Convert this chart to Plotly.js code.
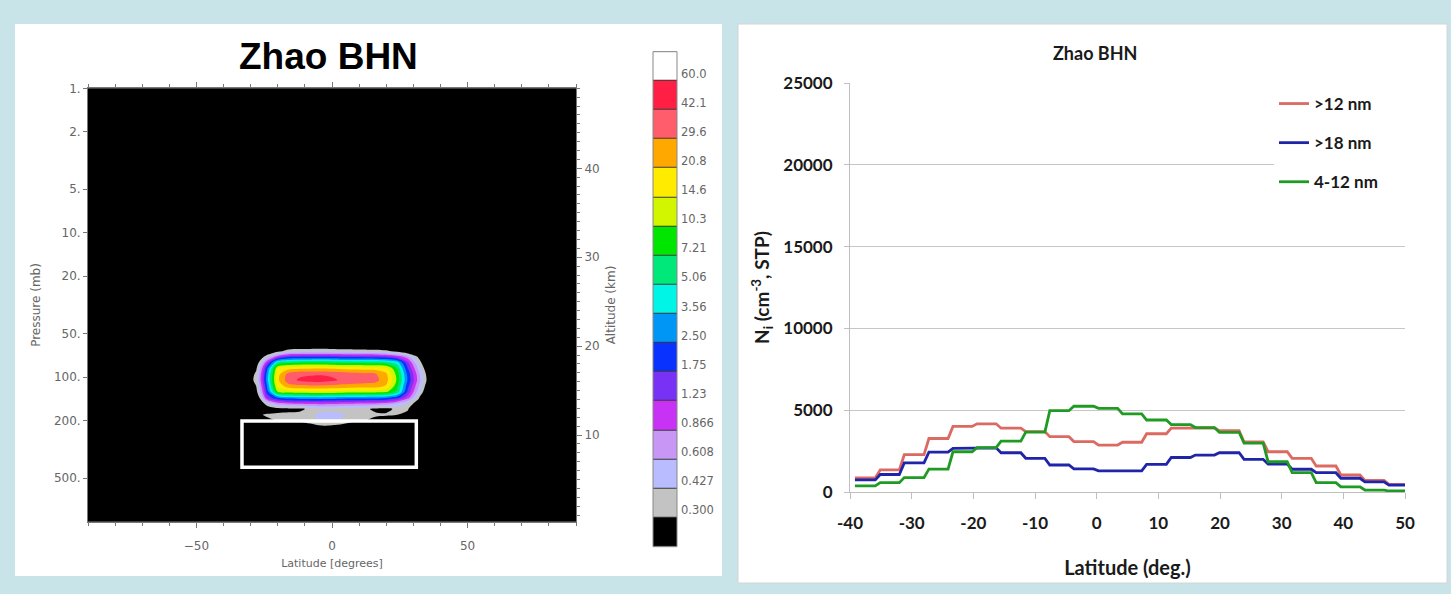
<!DOCTYPE html>
<html><head><meta charset="utf-8">
<script src="https://cdn.plot.ly/plotly-3.0.1.min.js"></script>
<style>html,body{margin:0;padding:0;background:#c8e4e9;} #chart{width:1451px;height:594px;}</style>
</head><body><div id="chart"></div>
<script>
// ================= LEFT PANEL DATA (latitude–pressure section) =================
const contourLat = [-36,-32,-28,-24,-20,-16,-12,-8,-4,0,4,8,12,16,20,24,28,32,36,40];
const contourPressure = [50,55,60,66,72,79,87,95,105,115,126,138,151,166,182,200,219,240];
const contourValue = [
 [0.08,0.08,0.08,0.08,0.08,0.08,0.08,0.08,0.08,0.08,0.08,0.08,0.08,0.08,0.08,0.08,0.08,0.08,0.08,0.08],
 [0.08,0.08,0.08,0.08,0.08,0.08,0.08,0.08,0.08,0.08,0.08,0.08,0.08,0.08,0.08,0.08,0.08,0.08,0.08,0.08],
 [0.08,0.08,0.08,0.08,0.131,0.159,0.169,0.173,0.175,0.169,0.162,0.159,0.156,0.154,0.140,0.106,0.08,0.08,0.08,0.08],
 [0.08,0.08,0.08,0.148,0.251,0.384,0.408,0.418,0.423,0.409,0.392,0.384,0.377,0.372,0.338,0.257,0.168,0.119,0.08,0.08],
 [0.08,0.08,0.129,0.398,1.03,1.58,1.67,1.71,1.73,1.68,1.61,1.58,1.55,1.53,1.39,1.06,0.690,0.260,0.08,0.08],
 [0.08,0.08,0.196,1.15,5.35,6.48,6.88,7.05,7.13,6.91,6.62,6.48,6.37,6.28,5.71,4.34,1.27,0.398,0.116,0.08],
 [0.08,0.133,0.270,2.24,14.6,18.7,19.9,20.4,20.6,19.9,19.1,18.7,18.4,18.1,16.5,7.21,1.75,0.547,0.159,0.08],
 [0.08,0.165,0.334,2.78,18.1,34.1,38.8,39.8,40.3,39.0,36.5,34.0,32.2,30.6,22.2,8.88,2.16,0.674,0.196,0.08],
 [0.104,0.177,0.358,2.98,19.4,36.6,44.4,48.5,50.2,45.2,39.3,36.6,34.7,32.9,24.0,9.57,2.32,0.725,0.211,0.104],
 [0.08,0.148,0.300,2.48,16.2,25.7,27.3,28.0,28.3,27.4,26.3,25.7,25.3,24.9,20.0,7.99,1.94,0.606,0.176,0.08],
 [0.08,0.120,0.243,2.01,10.5,12.7,13.5,13.9,14.0,13.6,13.0,12.7,12.5,12.3,11.2,6.46,1.57,0.490,0.143,0.08],
 [0.08,0.08,0.159,1.33,2.65,3.20,3.40,3.48,3.52,3.41,3.27,3.20,3.15,3.10,2.82,2.13,1.04,0.324,0.08,0.08],
 [0.08,0.08,0.112,0.453,0.795,0.963,1.02,1.05,1.06,1.03,0.983,0.963,0.946,0.933,0.847,0.643,0.421,0.226,0.08,0.08],
 [0.08,0.08,0.08,0.177,0.251,0.260,0.270,0.334,0.371,0.371,0.358,0.346,0.334,0.270,0.260,0.334,0.311,0.148,0.08,0.08],
 [0.08,0.08,0.251,0.334,0.327,0.334,0.340,0.384,0.475,0.492,0.442,0.358,0.340,0.327,0.322,0.300,0.270,0.148,0.08,0.08],
 [0.08,0.08,0.148,0.251,0.305,0.316,0.322,0.358,0.458,0.458,0.398,0.322,0.300,0.251,0.211,0.177,0.148,0.08,0.08,0.08],
 [0.08,0.08,0.08,0.148,0.177,0.196,0.211,0.251,0.280,0.270,0.243,0.211,0.196,0.177,0.148,0.08,0.08,0.08,0.08,0.08],
 [0.08,0.08,0.08,0.08,0.08,0.08,0.08,0.08,0.08,0.08,0.08,0.08,0.08,0.08,0.08,0.08,0.08,0.08,0.08,0.08]
];
const levelLabels = ['0.300','0.427','0.608','0.866','1.23','1.75','2.50','3.56','5.06','7.21','10.3','14.6','20.8','29.6','42.1','60.0'];
const levelColors = ['#000000','#c3c3c3','#b9bdff','#c896f5','#c832f5','#7832f5','#0a32ff','#0096f5','#00f5e6',
                     '#00e87a','#00e600','#d2f500','#ffeb00','#ffa800','#ff5c6c','#ff1f45','#ffffff'];
const pressureTicks = [1,2,5,10,20,50,100,200,500];
const pressureTickText = ['1.','2.','5.','10.','20.','50.','100.','200.','500.'];
const latTicksLeft = [-50,0,50];
const altitudeRange = [0.25, 49];
const boxLat = [-33.2, 31.1];
const boxPressure = [201, 420];

// ================= RIGHT PANEL DATA (Ni vs latitude) =================
const latStart = [-39.2,-35.1,-31.2,-27.2,-23.3,-19.4,-15.5,-11.5,-7.6,-3.7,0.3,4.2,8.1,12.1,16.0,19.9,23.9,27.8,31.7,35.6,39.6,43.5,47.4];
const latEnd   = [-35.9,-32.0,-28.0,-24.1,-20.2,-16.3,-12.3,-8.4,-4.5,-0.5,3.4,7.3,11.3,15.2,19.1,23.1,27.0,30.9,34.8,38.8,42.7,46.6,50.0];
const gt12    = [860,1350,2280,3270,4010,4170,3900,3690,3380,3080,2870,3040,3560,3910,3920,3750,3060,2460,2060,1590,1040,710,470];
const gt18    = [740,1070,1780,2440,2670,2700,2400,2060,1650,1410,1290,1290,1690,2110,2260,2400,2000,1710,1390,1180,840,620,420];
const nm4to12 = [370,570,880,1400,2460,2710,3110,3660,4970,5240,5110,4770,4400,4120,3940,3650,2990,1850,1180,570,310,120,60];
const seriesNames = ['&gt;12 nm','&gt;18 nm','4-12 nm'];
const seriesColors = ['#dc6a62','#1f24a8','#1f9a22'];
const latTicksRight = [-40,-30,-20,-10,0,10,20,30,40,50];
const latTickTextRight = latTicksRight.map(String);

// ================= BUILD =================
const W = 1451, H = 594;
const px = v => v / W;
const py = v => 1 - v / H;

const zIndex = contourValue.map(r => r.map(v => 15 * Math.log(v / 0.3) / Math.log(200)));
const discreteScale = levelColors.map((c, j) => [j / (levelColors.length - 1), c]);

function stepX() { const o = []; latStart.forEach((s, i) => { o.push(s, latEnd[i]); }); return o; }
function stepY(vals) { const o = []; vals.forEach(v => { o.push(v, v); }); return o; }

const traces = [
  {type:'contour', x: contourLat, y: contourPressure.map(p => Math.log10(p)), z: zIndex,
   xaxis:'x', yaxis:'y', autocontour:false,
   contours:{start:0, end:15, size:1, coloring:'fill', showlines:false},
   colorscale: discreteScale, showscale:false, line:{width:0, smoothing:0.9},
   hoverinfo:'skip', showlegend:false},
  // empty trace so that the altitude axis (y2) is drawn
  {type:'scatter', mode:'none', x:[], y:[], xaxis:'x', yaxis:'y2', hoverinfo:'skip', showlegend:false},
  {type:'heatmap', x:[0], y: levelColors.map((c, j) => j), z: levelColors.map((c, j) => [j]),
   xaxis:'x3', yaxis:'y3', colorscale: discreteScale, zmin:0, zmax: levelColors.length - 1,
   showscale:false, ygap:1, hoverinfo:'skip', showlegend:false}
];
[gt12, gt18, nm4to12].forEach((vals, i) => {
  traces.push({type:'scatter', mode:'lines', x: stepX(), y: stepY(vals), xaxis:'x4', yaxis:'y4',
    name: seriesNames[i], legendgroup: 'g' + i, line:{color: seriesColors[i], width:2.8},
    hoverinfo:'skip'});
});

const gfont = {family:'DejaVu Sans', size:12, color:'#666'};
const efont = {family:'Lato', size:17, color:'#1a1a1a', weight:'bold'};

const layout = {
  width: W, height: H, margin:{l:0,r:0,t:0,b:0},
  paper_bgcolor:'#c8e4e9', plot_bgcolor:'rgba(0,0,0,0)',
  showlegend:true,
  xaxis:{domain:[px(88), px(576)], range:[-90,90], anchor:'y',
    tickmode:'array', tickvals: latTicksLeft, ticks:'outside', ticklen:5, tickcolor:'#777',
    minor:{dtick:10, tick0:0, ticks:'outside', ticklen:3, tickcolor:'#777'},
    showline:true, linecolor:'#777', linewidth:1, mirror:'ticks', showgrid:false, zeroline:false,
    tickfont: gfont, ticklabelstandoff:8,
    title:{text:'Latitude [degrees]', font:{family:'DejaVu Sans', size:11, color:'#666'}, standoff:7}},
  yaxis:{domain:[py(521.7), py(88.3)], range:[3, 0], anchor:'x',
    tickmode:'array', tickvals: pressureTicks.map(p => Math.log10(p)), ticktext: pressureTickText,
    ticks:'outside', ticklen:4, tickcolor:'#777', showline:true, linecolor:'#777', showgrid:false, zeroline:false,
    tickfont: gfont, title:{text:'Pressure (mb)', font: gfont, standoff:10}},
  yaxis2:{overlaying:'y', anchor:'x', side:'right', range: altitudeRange,
    tick0:0, dtick:10, ticks:'outside', ticklen:5, tickcolor:'#777',
    minor:{dtick:1, ticks:'outside', ticklen:3, tickcolor:'#777'},
    showline:true, linecolor:'#777', showgrid:false, zeroline:false,
    tickfont: gfont, title:{text:'Altitude (km)', font: gfont, standoff:7}},
  xaxis3:{domain:[px(653), px(677)], range:[-0.5, 0.5], anchor:'y3', visible:false, fixedrange:true},
  yaxis3:{domain:[py(546.7), py(51.7)], range:[-0.5, levelColors.length - 0.5], anchor:'x3', side:'right',
    tickmode:'array', tickvals: levelLabels.map((t, k) => k + 0.75), ticktext: levelLabels,
    ticks:'', showline:false, showgrid:false, zeroline:false, ticklabelstandoff:3,
    tickfont:{family:'DejaVu Sans', size:11.5, color:'#666'}},
  xaxis4:{domain:[px(850), px(1405)], range:[-40, 50], anchor:'y4',
    tickmode:'array', tickvals: latTicksRight, ticktext: latTickTextRight,
    ticks:'outside', ticklen:6, tickcolor:'#bfbfbf', showline:true, linecolor:'#bfbfbf',
    showgrid:false, zeroline:false, tickfont: efont, ticklabelstandoff:10,
    title:{text:'Latitude (deg.)', font:{family:'Lato', size:20, color:'#1a1a1a', weight:'bold'}, standoff:28}},
  yaxis4:{domain:[py(492), py(83)], range:[0, 25000], anchor:'x4',
    tick0:0, dtick:5000, tickformat:'d', ticks:'outside', ticklen:5, tickcolor:'#bfbfbf',
    showline:true, linecolor:'#bfbfbf', showgrid:true, gridcolor:'#c6c6c6', zeroline:false,
    tickfont: efont, ticklabelstandoff:8,
    title:{text:'N<sub>i</sub> (cm<sup>-3</sup>, STP)', font:{family:'Lato', size:19, color:'#1a1a1a', weight:'bold'}, standoff:8}},
  legend:{x: px(1274), y: py(86), xanchor:'left', yanchor:'top', bgcolor:'#ffffff',
    font: efont, tracegroupgap:14, itemwidth:30},
  annotations:[
    {xref:'paper', yref:'paper', x: px(328), y: py(57), text:'Zhao BHN', showarrow:false,
     xanchor:'center', yanchor:'middle', font:{family:'Liberation Sans', size:37, color:'#000', weight:'bold'}},
    {xref:'paper', yref:'paper', x: px(1095), y: py(53), text:'Zhao BHN', showarrow:false,
     xanchor:'center', yanchor:'middle', font:{family:'Lato', size:18, color:'#1a1a1a', weight:'bold'}}
  ],
  shapes:[
    {type:'rect', xref:'paper', yref:'paper', x0:px(15), x1:px(722), y0:py(576), y1:py(24), fillcolor:'#ffffff', line:{width:0}, layer:'below'},
    {type:'rect', xref:'paper', yref:'paper', x0:px(738), x1:px(1447), y0:py(583), y1:py(24), fillcolor:'#ffffff', line:{width:1, color:'#d4d4d4'}, layer:'below'},
    // legend box area (Excel legend background hides the grid behind it)
    {type:'rect', xref:'paper', yref:'paper', x0:px(1276), x1:px(1410), y0:py(196), y1:py(89), fillcolor:'#ffffff', line:{width:0}, layer:'above'},
    {type:'rect', xref:'x domain', yref:'y domain', x0:0, x1:1, y0:0, y1:1, fillcolor:'#000000', line:{width:0}, layer:'below'},
    {type:'rect', xref:'x', yref:'y', x0: boxLat[0], x1: boxLat[1], y0: Math.log10(boxPressure[0]), y1: Math.log10(boxPressure[1]),
     fillcolor:'rgba(0,0,0,0)', line:{width:3.5, color:'#ffffff'}, layer:'above'},
    {type:'rect', xref:'x3 domain', yref:'y3 domain', x0:0, x1:1, y0:0, y1:1, fillcolor:'#3a3a3a', line:{width:0}, layer:'below'},
    {type:'rect', xref:'x3 domain', yref:'y3 domain', x0:0, x1:1, y0:0, y1:1, fillcolor:'rgba(0,0,0,0)', line:{width:1, color:'#888'}, layer:'above'}
  ]
};

Plotly.newPlot('chart', traces, layout, {displayModeBar:false, staticPlot:true});
</script>
</body></html>
